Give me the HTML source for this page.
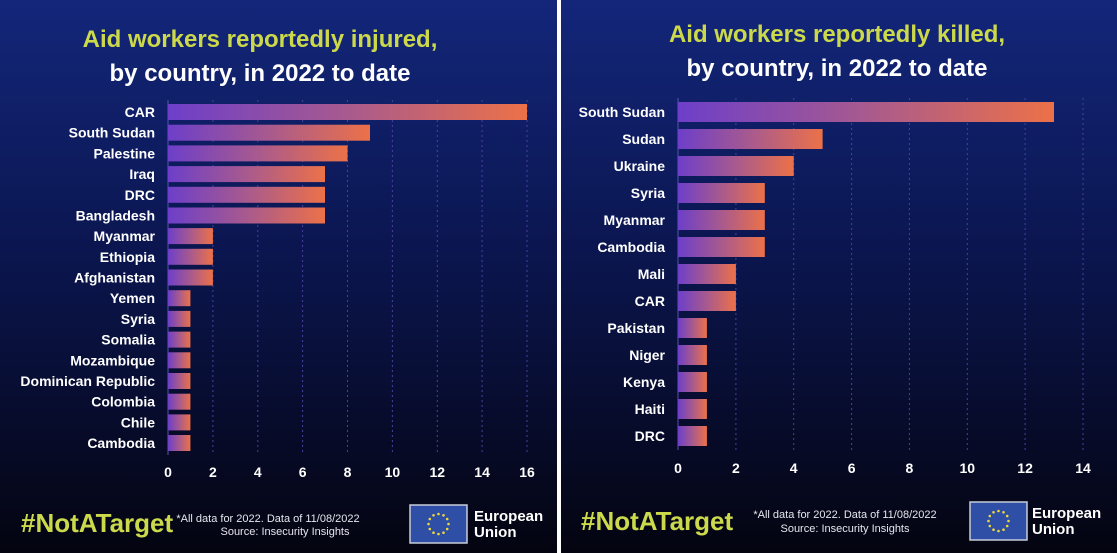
<!DOCTYPE html>
<html><head><meta charset="utf-8"><style>
html,body{margin:0;padding:0;width:1117px;height:553px;overflow:hidden;background:#000}
svg{display:block;font-family:"Liberation Sans",sans-serif}
</style></head><body>
<svg width="1117" height="553" viewBox="0 0 1117 553" xmlns="http://www.w3.org/2000/svg">
<defs>
<linearGradient id="bg" x1="0" y1="0" x2="0" y2="1">
<stop offset="0" stop-color="#13267a"/><stop offset="0.45" stop-color="#0b1650"/><stop offset="1" stop-color="#040410"/>
</linearGradient>
<linearGradient id="bar" x1="0" y1="0" x2="1" y2="0">
<stop offset="0" stop-color="#6d3fc9"/><stop offset="0.5" stop-color="#a85a8e"/><stop offset="1" stop-color="#ec7148"/>
</linearGradient>
<g id="flag">
<rect x="0" y="0" width="57" height="38" fill="#2f4ea6" stroke="#c8cbd8" stroke-width="1.5"/>
<g fill="#f0d83a">
<circle cx="28.5" cy="9" r="1.3"/><circle cx="33.5" cy="10.3" r="1.3"/><circle cx="37.2" cy="14" r="1.3"/><circle cx="38.5" cy="19" r="1.3"/><circle cx="37.2" cy="24" r="1.3"/><circle cx="33.5" cy="27.7" r="1.3"/><circle cx="28.5" cy="29" r="1.3"/><circle cx="23.5" cy="27.7" r="1.3"/><circle cx="19.8" cy="24" r="1.3"/><circle cx="18.5" cy="19" r="1.3"/><circle cx="19.8" cy="14" r="1.3"/><circle cx="23.5" cy="10.3" r="1.3"/>
</g></g>
</defs>
<rect width="1117" height="553" fill="url(#bg)"/>
<rect x="557" y="0" width="4" height="553" fill="#fff"/>

<!-- LEFT -->
<text x="260" y="47" text-anchor="middle" font-size="24" font-weight="bold" fill="#cbd94a">Aid workers reportedly injured,</text>
<text x="260" y="81" text-anchor="middle" font-size="24" font-weight="bold" fill="#fff">by country, in 2022 to date</text>
<g stroke="#4a3fa0" stroke-width="1" stroke-dasharray="2,3">
<line x1="168" y1="100" x2="168" y2="455" stroke-dasharray="none" stroke="#5a50b0"/>
<line x1="212.9" y1="100" x2="212.9" y2="455"/><line x1="257.8" y1="100" x2="257.8" y2="455"/><line x1="302.6" y1="100" x2="302.6" y2="455"/><line x1="347.5" y1="100" x2="347.5" y2="455"/><line x1="392.4" y1="100" x2="392.4" y2="455"/><line x1="437.3" y1="100" x2="437.3" y2="455"/><line x1="482.1" y1="100" x2="482.1" y2="455"/><line x1="527" y1="100" x2="527" y2="455"/>
</g>
<g fill="url(#bar)">
<rect x="168" y="104" width="359" height="16"/>
<rect x="168" y="124.7" width="202" height="16"/>
<rect x="168" y="145.4" width="179.5" height="16"/>
<rect x="168" y="166.1" width="157" height="16"/>
<rect x="168" y="186.8" width="157" height="16"/>
<rect x="168" y="207.5" width="157" height="16"/>
<rect x="168" y="228.1" width="44.9" height="16"/>
<rect x="168" y="248.8" width="44.9" height="16"/>
<rect x="168" y="269.5" width="44.9" height="16"/>
<rect x="168" y="290.2" width="22.4" height="16"/>
<rect x="168" y="310.9" width="22.4" height="16"/>
<rect x="168" y="331.6" width="22.4" height="16"/>
<rect x="168" y="352.3" width="22.4" height="16"/>
<rect x="168" y="373" width="22.4" height="16"/>
<rect x="168" y="393.7" width="22.4" height="16"/>
<rect x="168" y="414.4" width="22.4" height="16"/>
<rect x="168" y="435" width="22.4" height="16"/>
</g>
<g fill="#fff" font-size="14" font-weight="bold" text-anchor="end">
<text x="155" y="117">CAR</text><text x="155" y="137.7">South Sudan</text><text x="155" y="158.4">Palestine</text><text x="155" y="179.1">Iraq</text><text x="155" y="199.8">DRC</text><text x="155" y="220.5">Bangladesh</text><text x="155" y="241.1">Myanmar</text><text x="155" y="261.8">Ethiopia</text><text x="155" y="282.5">Afghanistan</text><text x="155" y="303.2">Yemen</text><text x="155" y="323.9">Syria</text><text x="155" y="344.6">Somalia</text><text x="155" y="365.3">Mozambique</text><text x="155" y="386">Dominican Republic</text><text x="155" y="406.7">Colombia</text><text x="155" y="427.4">Chile</text><text x="155" y="448">Cambodia</text>
</g>
<g fill="#fff" font-size="14" font-weight="bold" text-anchor="middle">
<text x="168" y="477">0</text><text x="212.9" y="477">2</text><text x="257.8" y="477">4</text><text x="302.6" y="477">6</text><text x="347.5" y="477">8</text><text x="392.4" y="477">10</text><text x="437.3" y="477">12</text><text x="482.1" y="477">14</text><text x="527" y="477">16</text>
</g>
<text x="21" y="532" font-size="26" font-weight="bold" fill="#cbd94a">#NotATarget</text>
<text x="268" y="522" text-anchor="middle" font-size="11" fill="#e6e6ee">*All data for 2022. Data of 11/08/2022</text>
<text x="285" y="535" text-anchor="middle" font-size="11" fill="#e6e6ee">Source: Insecurity Insights</text>
<use href="#flag" x="410" y="505"/>
<text x="474" y="521" font-size="15" font-weight="bold" fill="#fff">European</text>
<text x="474" y="537" font-size="15" font-weight="bold" fill="#fff">Union</text>

<!-- RIGHT -->
<text x="837" y="42" text-anchor="middle" font-size="24" font-weight="bold" fill="#cbd94a">Aid workers reportedly killed,</text>
<text x="837" y="76" text-anchor="middle" font-size="24" font-weight="bold" fill="#fff">by country, in 2022 to date</text>
<g stroke="#4a3fa0" stroke-width="1" stroke-dasharray="2,3">
<line x1="678" y1="98" x2="678" y2="450" stroke-dasharray="none" stroke="#5a50b0"/>
<line x1="735.9" y1="98" x2="735.9" y2="450"/><line x1="793.7" y1="98" x2="793.7" y2="450"/><line x1="851.6" y1="98" x2="851.6" y2="450"/><line x1="909.4" y1="98" x2="909.4" y2="450"/><line x1="967.3" y1="98" x2="967.3" y2="450"/><line x1="1025.1" y1="98" x2="1025.1" y2="450"/><line x1="1083" y1="98" x2="1083" y2="450"/>
</g>
<g fill="url(#bar)">
<rect x="678" y="102" width="376" height="20"/>
<rect x="678" y="129" width="144.6" height="20"/>
<rect x="678" y="156" width="115.7" height="20"/>
<rect x="678" y="183" width="86.8" height="20"/>
<rect x="678" y="210" width="86.8" height="20"/>
<rect x="678" y="237" width="86.8" height="20"/>
<rect x="678" y="264" width="57.9" height="20"/>
<rect x="678" y="291" width="57.9" height="20"/>
<rect x="678" y="318" width="28.9" height="20"/>
<rect x="678" y="345" width="28.9" height="20"/>
<rect x="678" y="372" width="28.9" height="20"/>
<rect x="678" y="399" width="28.9" height="20"/>
<rect x="678" y="426" width="28.9" height="20"/>
</g>
<g fill="#fff" font-size="14" font-weight="bold" text-anchor="end">
<text x="665" y="117">South Sudan</text><text x="665" y="144">Sudan</text><text x="665" y="171">Ukraine</text><text x="665" y="198">Syria</text><text x="665" y="225">Myanmar</text><text x="665" y="252">Cambodia</text><text x="665" y="279">Mali</text><text x="665" y="306">CAR</text><text x="665" y="333">Pakistan</text><text x="665" y="360">Niger</text><text x="665" y="387">Kenya</text><text x="665" y="414">Haiti</text><text x="665" y="441">DRC</text>
</g>
<g fill="#fff" font-size="14" font-weight="bold" text-anchor="middle">
<text x="678" y="473">0</text><text x="735.9" y="473">2</text><text x="793.7" y="473">4</text><text x="851.6" y="473">6</text><text x="909.4" y="473">8</text><text x="967.3" y="473">10</text><text x="1025.1" y="473">12</text><text x="1083" y="473">14</text>
</g>
<text x="581" y="530" font-size="26" font-weight="bold" fill="#cbd94a">#NotATarget</text>
<text x="845" y="518" text-anchor="middle" font-size="11" fill="#e6e6ee">*All data for 2022. Data of 11/08/2022</text>
<text x="845" y="532" text-anchor="middle" font-size="11" fill="#e6e6ee">Source: Insecurity Insights</text>
<use href="#flag" x="970" y="502"/>
<text x="1032" y="518" font-size="15" font-weight="bold" fill="#fff">European</text>
<text x="1032" y="534" font-size="15" font-weight="bold" fill="#fff">Union</text>
</svg>
</body></html>
